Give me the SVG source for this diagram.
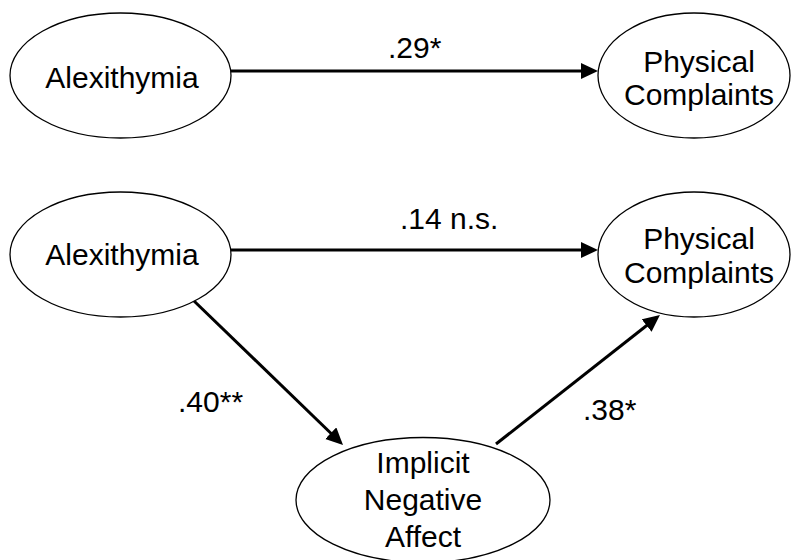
<svg xmlns="http://www.w3.org/2000/svg" width="792" height="560" viewBox="0 0 792 560">
  <style>
    .node ellipse { fill: #ffffff; stroke: #000000; stroke-width: 1.3; }
    .lbl { font-family: "Liberation Sans", Arial, sans-serif; font-size: 30px; fill: #000000; }
    .mid { text-anchor: middle; }
    .edge { stroke: #000000; stroke-width: 3; fill: none; marker-end: url(#head); }
  </style>
  <defs>
    <marker id="head" markerUnits="userSpaceOnUse" markerWidth="18" markerHeight="18" refX="7" refY="8" orient="auto">
      <path d="M0,0 L17,8 L0,16 Z" fill="#000000"/>
    </marker>
  </defs>
  <rect width="792" height="560" fill="#ffffff"/>

  <!-- connectors -->
  <g id="connectors">
    <line class="edge" x1="231" y1="71" x2="588" y2="71"/>
    <line class="edge" x1="231" y1="250" x2="588" y2="250"/>
    <line class="edge" x1="193" y1="300" x2="335.8" y2="438"/>
    <line class="edge" x1="496" y1="444" x2="652.1" y2="321.2"/>
    <text class="lbl" x="388" y="58">.29*</text>
    <text class="lbl" x="400" y="229">.14 n.s.</text>
    <text class="lbl" x="178" y="412">.40**</text>
    <text class="lbl" x="583" y="420">.38*</text>
  </g>

  <!-- model without mediator -->
  <g id="alexithymia-direct" class="node">
    <ellipse cx="120.5" cy="75.5" rx="110.5" ry="62.5"/>
    <text class="lbl mid" x="122" y="88">Alexithymia</text>
  </g>
  <g id="physical-direct" class="node">
    <ellipse cx="694" cy="75.5" rx="96" ry="62.5"/>
    <text class="lbl mid" x="699" y="72">Physical</text>
    <text class="lbl mid" x="699" y="105">Complaints</text>
  </g>

  <!-- model with mediator -->
  <g id="alexithymia" class="node">
    <ellipse cx="120.5" cy="254.5" rx="110.5" ry="62.5"/>
    <text class="lbl mid" x="122" y="265">Alexithymia</text>
  </g>
  <g id="physical" class="node">
    <ellipse cx="694" cy="254.5" rx="96" ry="62.5"/>
    <text class="lbl mid" x="699" y="249">Physical</text>
    <text class="lbl mid" x="699" y="283">Complaints</text>
  </g>
  <g id="implicit-negative-affect" class="node">
    <ellipse cx="423" cy="500" rx="127" ry="62.5"/>
    <text class="lbl mid" x="423" y="473">Implicit</text>
    <text class="lbl mid" x="423" y="510">Negative</text>
    <text class="lbl mid" x="423" y="547">Affect</text>
  </g>
</svg>
